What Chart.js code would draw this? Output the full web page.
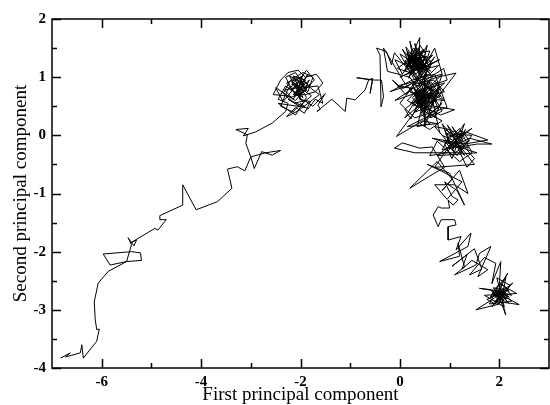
<!DOCTYPE html>
<html>
<head>
<meta charset="utf-8">
<script src="https://cdn.jsdelivr.net/npm/chart.js@4.4.1/dist/chart.umd.min.js"></script>
<style>
  html, body { margin: 0; padding: 0; background: #fff; }
  #c { display: block; }
</style>
</head>
<body>
<canvas id="c" width="550" height="405"></canvas>
<script>
// Axis ticks
const xMajorTicks = [-6, -4, -2, 0, 2];
const xMinorTicks = [-5, -3, -1, 1];
const yMajorTicks = [-4, -3, -2, -1, 0, 1, 2];
const yMinorTicks = [-3.5, -2.5, -1.5, -0.5, 0.5, 1.5];

// Trajectory segments [PC1, PC2] in order
const tailPath = [
  [-6.83,-3.83],[-6.63,-3.74],[-6.73,-3.81],[-6.60,-3.78],[-6.43,-3.74],[-6.40,-3.60],[-6.37,-3.83],
  [-6.10,-3.54],[-6.05,-3.33],[-6.10,-3.34],[-6.13,-3.17],[-6.15,-2.86],[-6.07,-2.54],[-5.87,-2.34],
  [-5.50,-2.17],[-5.20,-2.15],[-5.22,-2.02],[-5.40,-2.00],[-5.97,-2.04],[-5.83,-2.23],[-5.50,-2.17],
  [-5.40,-1.88],[-5.47,-1.76],[-5.35,-1.90],[-5.30,-1.80],[-5.42,-1.85],[-4.93,-1.60],[-4.87,-1.63],
  [-4.70,-1.45],[-4.83,-1.45],[-4.83,-1.38],[-4.37,-1.20],[-4.37,-0.85],[-4.10,-1.28],[-3.67,-1.14],
  [-3.38,-0.91],[-3.47,-0.58],[-3.27,-0.54],[-3.12,-0.61],[-3.00,-0.37],[-2.93,-0.57],[-2.78,-0.28],
  [-2.57,-0.34],[-2.40,-0.26],[-2.70,-0.30],[-3.00,-0.37],[-3.10,-0.14],[-3.07,0.01],[-3.30,0.10],
  [-3.05,0.12],[-3.15,-0.01],[-2.90,0.06],[-2.57,0.21],[-2.30,0.41]
];
const clusterA = [
  [-2.25,0.55],[-2.45,0.62],[-2.30,0.85],[-2.05,0.70],[-1.90,0.95],[-2.15,1.02],[-2.00,0.78],[-1.80,0.88],
  [-2.10,0.60],[-2.35,0.72],[-2.20,0.95],[-1.95,1.08],[-1.75,1.00],[-1.85,0.75],[-2.05,0.92],[-2.25,0.80],
  [-2.40,0.50],[-2.15,0.40],[-2.00,0.55],[-1.85,0.45],[-1.70,0.62],[-1.55,0.55],[-1.65,0.85],[-1.90,0.82],
  [-2.10,1.08],[-2.30,1.00],[-2.15,0.75],[-1.95,0.65],[-2.08,0.88],[-1.88,1.12],[-1.72,0.95],[-1.98,0.72],
  [-2.20,0.65],[-2.50,0.82],[-2.35,0.58],[-2.12,0.82],[-1.95,0.90],[-2.02,0.62],[-1.80,0.58],[-1.92,0.38],
  [-2.10,0.48],[-2.28,0.32],[-2.05,0.42],[-1.85,0.55],[-1.62,0.70],[-1.78,0.80],[-2.00,1.00],[-2.18,0.88],
  [-2.02,0.85],[-2.20,0.78],[-1.98,0.95],[-2.12,0.68],[-1.88,0.78],[-2.08,0.98],[-2.28,0.90],[-1.95,0.58],
  [-2.10,0.75],[-1.82,0.95],[-2.00,0.68],[-2.22,1.02],[-1.92,0.88],[-2.15,0.62],[-2.32,0.78],[-2.05,0.82],
  [-1.85,1.05],[-2.08,0.72],[-1.96,1.02],[-2.18,0.92],[-1.78,0.68],[-2.02,0.50],[-2.25,0.62],[-1.90,0.48],
  [-2.45,0.55],[-2.10,0.35],[-1.88,0.65],
  [-1.98,0.80],[-2.15,0.70],[-1.90,0.70],[-1.70,0.75],[-1.55,0.90],[-1.68,1.05],[-1.90,1.00],[-2.05,1.12],
  [-2.25,1.08],[-2.40,0.95],[-2.55,0.70],[-2.30,0.68],[-2.12,0.55],[-1.92,0.60],[-1.75,0.50],[-1.50,0.72],
  [-1.65,0.52],[-1.60,0.45],[-1.67,0.41]
];
const bridgePath = [
  [-1.37,0.62],[-1.10,0.41],[-1.07,0.64],[-0.90,0.61],[-0.70,0.78],[-0.63,0.95],[-0.55,0.98],[-0.60,0.72],
  [-0.55,0.95],[-0.87,0.99],[-0.51,0.95],[-0.37,0.95],[-0.33,0.66],[-0.38,0.49],[-0.40,1.38],[-0.47,1.50],
  [-0.27,1.44],[-0.17,1.21],[-0.11,1.42]
];
const mainCluster = [
  [0.05,1.25],[0.25,1.05],[0.15,1.45],[0.35,1.20],[0.20,1.62],[0.30,1.15],[0.45,1.35],[0.10,1.10],
  [0.40,1.68],[0.38,1.05],[0.55,1.30],[0.22,1.28],[0.00,1.40],[0.30,0.95],[0.48,1.15],[0.15,1.20],
  [0.35,1.42],[0.60,1.45],[0.42,1.00],[0.25,1.35],[0.05,1.05],[-0.10,1.30],[0.20,1.18],[0.45,1.25],
  [0.62,1.10],[0.33,1.30],[0.18,0.98],[0.40,1.55],[0.52,1.40],[0.28,1.22],[0.10,1.35],[0.36,1.12],
  [0.58,1.20],[0.70,1.35],[0.47,1.08],[0.25,1.48],[0.15,1.30],[0.38,0.88],[0.55,1.02],[0.32,1.38],
  [-0.05,1.15],[0.20,1.08],[0.42,1.28],[0.65,1.00],[0.50,0.85],[0.28,1.02],[0.12,1.52],[0.35,1.25],
  [0.55,1.55],[0.45,1.18],[0.00,1.00],[0.80,1.30],[0.35,1.10],
  [0.18,1.38],[0.42,1.12],[0.28,1.50],[0.50,1.22],[0.12,1.18],[0.36,1.32],[0.58,1.08],[0.22,1.42],
  [0.44,1.02],[0.30,1.28],[0.08,1.22],[0.40,1.40],[0.62,1.28],[0.26,1.10],[0.48,1.48],[0.16,1.05],
  [0.34,1.18],[0.54,1.36],[0.20,1.30],[0.46,1.20],[0.30,1.58],[0.38,1.16],[0.14,1.40],[0.52,1.12],
  [0.24,1.20],[0.66,1.38],[0.32,1.05],[0.10,1.28],[0.44,1.45],[0.28,1.12],[0.50,1.30],[0.18,1.15],
  [0.40,1.22],[0.60,1.18],[0.34,1.50],[0.22,1.08],[0.46,1.35],[0.26,1.25],[0.05,1.48],[0.36,0.98],
  [0.70,1.50],[0.85,1.05],[-0.05,0.85],
  [0.30,0.80],[0.50,0.70],[0.35,0.55],[0.60,0.90],[0.25,0.65],[0.45,0.45],[0.70,0.75],[0.40,0.95],
  [0.55,0.60],[0.80,0.85],[0.62,0.50],[0.30,0.40],[0.48,0.78],[0.72,0.62],[0.20,0.75],[0.42,0.65],
  [0.65,0.40],[0.85,0.55],[0.52,0.30],[0.35,0.70],[0.58,0.82],[0.78,0.45],[0.45,0.55],[0.25,0.88],
  [0.68,0.95],[0.90,0.75],[0.55,0.68],[0.38,0.48],[0.15,0.60],[0.50,0.92],[0.75,1.00],[1.13,1.07],
  [0.80,0.70],[0.62,0.58],[0.42,0.38],[0.60,0.20],[0.35,0.15],[0.48,0.62],[0.70,0.50],[1.10,0.44],
  [0.82,0.35],[0.58,0.45],[0.40,0.80],[0.28,0.50],[0.55,0.75],[0.72,0.88],[0.95,0.95],[0.88,1.15],
  [-0.10,0.60],[0.90,0.90],[0.10,0.30],
  [0.40,0.72],[0.62,0.66],[0.30,0.58],[0.55,0.48],[0.75,0.70],[0.48,0.88],[0.35,0.62],[0.68,0.55],
  [0.52,0.80],[0.28,0.72],[0.45,0.40],[0.72,0.78],[0.58,0.62],[0.38,0.85],[0.62,0.92],[0.82,0.68],
  [0.50,0.52],[0.32,0.48],[0.55,0.72],[0.75,0.58],[0.42,0.60],[0.65,0.85],[0.48,0.35],[0.28,0.82],
  [0.60,0.42],[0.80,0.80],[0.40,0.55],[0.58,0.95],[0.70,0.65],[0.45,0.78],[0.22,0.55],[0.52,0.65],
  [0.78,0.92],[0.35,0.75],[0.62,0.30],[0.85,0.42],[0.55,0.85],[0.38,0.68],[0.65,0.72],[0.45,0.95],
  [0.65,1.25],[0.50,1.05],[0.50,0.15],[0.85,1.05],
  [0.32,0.60],[0.10,0.45],[0.22,0.28],[0.45,0.70],[0.62,0.72],[0.85,0.62],[0.70,0.30],[0.50,0.50],
  [0.30,0.92],[0.05,0.80],[-0.15,0.95],[0.12,0.70],[0.38,1.00],[0.60,1.05],[0.78,1.20],[0.55,1.15],
  [0.00,0.55],[0.30,0.30],[0.95,0.48],[0.70,1.05],[0.25,0.95],[-0.20,0.75],[0.15,0.85],[0.55,1.05],
  [0.35,0.82],[0.20,1.00],[-0.25,1.10],[-0.33,1.50],[-0.15,1.25],[0.08,0.92],[0.30,0.70],[0.52,0.40],
  [0.85,0.25],[0.60,0.10],[0.40,0.20],[0.75,0.40],[0.15,0.15],
  [0.75,0.20],[0.45,0.25],[-0.07,-0.02],[0.25,0.35],[0.50,0.58],[0.68,0.80],[0.90,0.60],[0.65,0.62]
];
const clusterB = [
  [0.80,0.05],[1.00,-0.15],[0.90,0.10],[1.20,-0.05],[1.05,0.15],[1.30,-0.20],[1.10,-0.30],[0.95,-0.05],
  [1.25,0.08],[1.40,-0.10],[1.15,-0.20],[0.85,-0.25],[1.00,0.00],[1.35,0.05],[1.77,-0.08],[1.30,-0.15],
  [0.65,-0.05],[1.55,-0.30],[0.75,-0.35],[1.45,0.12],
  [1.08,-0.08],[1.22,0.00],[0.98,-0.22],[1.18,-0.15],[1.32,0.10],[1.05,-0.25],[1.28,-0.05],[0.92,0.02],
  [1.12,0.08],[1.38,-0.22],[1.02,-0.12],[1.25,-0.25],[0.88,-0.08],[1.15,-0.35],[1.45,0.00],[1.10,0.02],
  [0.95,0.18],[1.30,-0.35],[1.20,-0.20],[1.55,-0.15],[1.85,-0.15],[1.40,-0.05],[1.05,-0.20],
  [0.85,0.20],[1.50,-0.50],[0.70,-0.55],[1.30,0.20],
  [1.05,-0.40],[0.90,-0.15],[1.20,0.12],[1.45,-0.30],[1.20,-0.45],[0.75,-0.10],[0.60,-0.35],[0.95,-0.30],
  [1.15,-0.05],[1.50,-0.40],[1.35,-0.55],[1.10,-0.10],[0.85,0.00],[0.70,0.15],[1.00,0.10],[1.25,-0.30],
  [0.30,-0.30],[-0.11,-0.22],[0.05,-0.13],[0.40,-0.22],[0.65,-0.20],
  [0.90,-0.55],[0.60,-0.70],[0.20,-0.91],[0.75,-0.45],[1.05,-0.75],[0.85,-0.95],[1.20,-0.60],[1.37,-1.00],
  [1.10,-0.85],[0.70,-0.85],[0.95,-1.10],[1.25,-0.80],[0.80,-0.60],[0.55,-0.50],[1.00,-0.65],[1.30,-1.20],
  [1.15,-0.95],[0.90,-0.80],[1.05,-1.05]
];
const descentPath = [
  [1.17,-1.11],[1.07,-1.20],[0.97,-1.11],[1.00,-1.25],[0.83,-1.25],[0.77,-1.225],[0.67,-1.37],[0.77,-1.57],
  [0.83,-1.45],[1.10,-1.45],[1.13,-1.54],[0.97,-1.57],[0.97,-1.80],
  [1.23,-1.74],[1.13,-1.97],[1.43,-1.68],[1.37,-1.91],[0.80,-2.17],[1.20,-2.08],[1.17,-1.85],[1.30,-2.26],
  [1.10,-2.40],[1.53,-2.23],[1.60,-2.03],[1.83,-1.91],[1.57,-2.43],[1.77,-2.31],[1.45,-2.15],[1.25,-2.30],
  [1.35,-2.05],[1.05,-2.25],[1.50,-1.95],[1.65,-2.30],[1.40,-2.40],[1.70,-2.10]
];
const finalCluster = [
  [1.93,-2.20],[1.85,-2.55],[2.03,-2.17],[2.00,-2.60],[2.17,-2.37],[1.95,-2.75],[2.27,-2.54],[2.10,-2.70],
  [1.80,-2.65],[1.60,-2.63],[1.95,-2.68],[2.15,-2.80],[1.90,-2.85],[2.40,-2.91],[2.05,-2.75],[1.85,-2.72],
  [1.98,-2.75],[2.12,-2.68],[1.90,-2.70],[2.05,-2.62],[2.15,-2.75],[1.95,-2.82],[2.08,-2.72],[1.88,-2.76],
  [2.02,-2.66],[2.20,-2.78],[1.96,-2.70],[2.10,-2.85],[1.85,-2.68],[2.00,-2.84],[2.18,-2.64],[1.92,-2.78],
  [2.06,-2.70],[2.25,-2.85],[1.80,-2.90],[2.00,-2.55],[2.35,-2.72],[1.70,-2.75],[2.10,-2.95],[1.95,-2.45],
  [2.22,-2.58],[1.85,-2.95],[2.03,-2.74],
  [2.00,-2.90],[1.53,-3.00],[1.90,-2.80],[2.10,-2.62],[2.25,-2.75],[2.00,-2.70],[1.82,-2.78],[1.95,-2.60],
  [2.13,-2.45],[2.05,-2.82],[2.13,-3.09],[2.00,-2.78],[1.88,-2.62],[2.20,-2.68],[2.05,-2.55],[1.92,-2.90],
  [1.75,-2.82],[2.02,-2.72],[2.18,-2.88],[1.98,-2.65],[2.08,-2.78]
];

const trajectory = [].concat(tailPath, clusterA, bridgePath, mainCluster, clusterB, descentPath, finalCluster)
  .map(p => ({ x: p[0], y: p[1] }));

const frameTicks = {
  id: 'frameTicks',
  afterDraw(chart) {
    const { ctx, chartArea: { left, right, top, bottom }, scales: { x, y } } = chart;
    ctx.save();
    ctx.strokeStyle = '#000';
    ctx.lineWidth = 1.5;
    ctx.strokeRect(left, top, right - left, bottom - top);
    ctx.beginPath();
    const xt = (vals, len) => vals.forEach(v => {
      const px = Math.round(x.getPixelForValue(v)) + 0.5;
      ctx.moveTo(px, bottom); ctx.lineTo(px, bottom - len);
      ctx.moveTo(px, top); ctx.lineTo(px, top + len);
    });
    const yt = (vals, len) => vals.forEach(v => {
      const py = Math.round(y.getPixelForValue(v)) + 0.5;
      ctx.moveTo(left, py); ctx.lineTo(left + len, py);
      ctx.moveTo(right, py); ctx.lineTo(right - len, py);
    });
    xt(xMajorTicks, 9); xt(xMinorTicks, 5);
    yt(yMajorTicks, 9); yt(yMinorTicks, 5);
    ctx.stroke();
    ctx.restore();
  }
};

const tickFont = { family: '"Liberation Serif", "Times New Roman", serif', size: 15, weight: 'bold' };
const titleFont = { family: '"Liberation Serif", "Times New Roman", serif', size: 19, weight: 'normal', lineHeight: 1 };

new Chart(document.getElementById('c'), {
  type: 'scatter',
  data: {
    datasets: [{
      data: trajectory,
      showLine: true,
      borderColor: '#000',
      borderWidth: 1,
      pointRadius: 0,
      tension: 0,
      fill: false
    }]
  },
  plugins: [frameTicks],
  options: {
    responsive: false,
    animation: false,
    devicePixelRatio: 1,
    layout: { padding: { top: 19, right: 1, left: 0, bottom: 0 } },
    plugins: { legend: { display: false }, tooltip: { enabled: false } },
    scales: {
      x: {
        type: 'linear',
        min: -7, max: 3,
        grid: { display: false, drawTicks: false },
        border: { display: false },
        afterBuildTicks: s => { s.ticks = xMajorTicks.map(v => ({ value: v })); },
        afterFit: s => { s.height = 37; },
        ticks: { color: '#000', font: tickFont, padding: 5, maxRotation: 0, autoSkip: false },
        title: { display: true, text: 'First principal component', color: '#000', font: titleFont, padding: { top: 0, bottom: 0 } }
      },
      y: {
        type: 'linear',
        min: -4, max: 2,
        grid: { display: false, drawTicks: false },
        border: { display: false },
        afterBuildTicks: s => { s.ticks = yMajorTicks.map(v => ({ value: v })); },
        afterFit: s => { s.width = 52; },
        ticks: { color: '#000', font: tickFont, padding: 6, autoSkip: false },
        title: { display: true, text: 'Second principal component', color: '#000', font: titleFont, padding: { top: 12, bottom: 0 } }
      }
    }
  }
});
</script>
</body>
</html>
